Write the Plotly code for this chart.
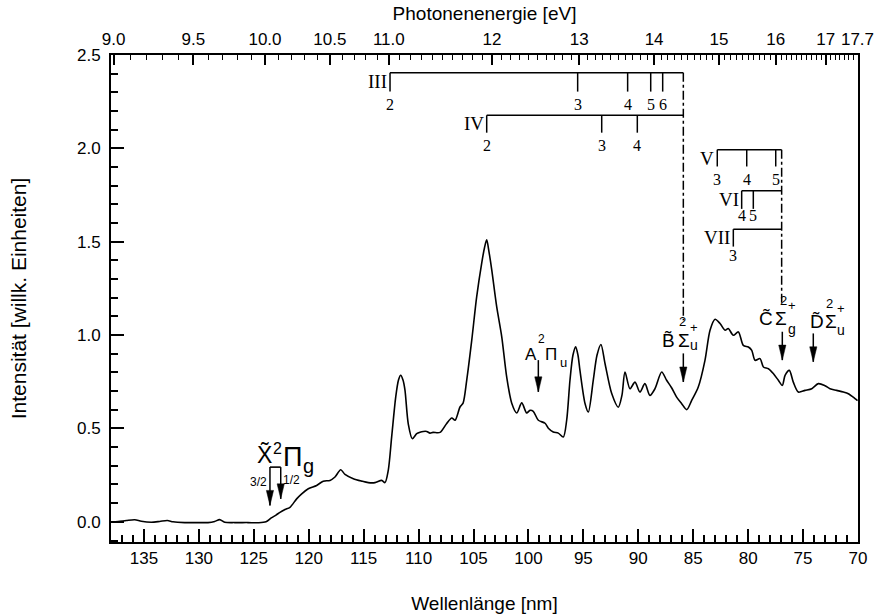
import plotly.graph_objects as go

# ---------------- data ----------------
wavelength_nm = [138.00, 137.36, 136.61, 135.84, 135.24, 134.33, 133.57, 132.87, 132.35, 131.29,
                 130.08, 129.17, 128.56, 128.11, 127.65, 126.74, 125.53, 124.62, 123.89, 123.41,
                 122.98, 122.62, 122.16, 121.71, 121.10, 120.64, 120.04, 119.28, 118.68, 118.07,
                 117.61, 117.09, 116.70, 115.94, 115.18, 114.58, 113.97, 113.36, 113.06, 112.76,
                 112.45, 112.08, 111.83, 111.63, 111.42, 111.24, 110.94, 110.57, 110.17, 109.87,
                 109.57, 109.26, 108.96, 108.69, 108.05, 107.44, 106.98, 106.68, 106.23, 105.95,
                 105.62, 105.16, 104.71, 104.25, 104.00, 103.80, 103.59, 103.34, 102.89, 102.43,
                 101.98, 101.52, 101.07, 100.61, 100.16, 99.86, 99.56, 99.10, 98.49, 98.19,
                 97.74, 97.28, 96.83, 96.52, 96.22, 95.95, 95.70, 95.49, 95.31, 94.85,
                 94.55, 94.10, 93.76, 93.40, 93.03, 92.42, 91.82, 91.49, 91.21, 90.76,
                 90.30, 89.85, 89.40, 88.94, 88.48, 87.87, 87.42, 86.97, 86.51, 86.05,
                 85.59, 85.14, 84.54, 83.93, 83.47, 83.01, 82.56, 82.10, 81.81, 81.35,
                 80.89, 80.44, 79.98, 79.67, 79.37, 78.92, 78.61, 78.16, 77.71, 77.25,
                 76.89, 76.64, 76.25, 75.89, 75.43, 74.82, 74.21, 73.61, 73.00, 72.55,
                 71.94, 71.33, 70.88, 70.27, 70.04]
intensity = [0.000, 0.002, 0.007, 0.011, 0.003, -0.002, 0.002, 0.007, 0.000, -0.004,
             -0.004, -0.004, 0.002, 0.012, -0.002, -0.004, -0.004, -0.005, 0.000, 0.021,
             0.036, 0.051, 0.066, 0.078, 0.123, 0.150, 0.177, 0.195, 0.218, 0.222,
             0.240, 0.279, 0.254, 0.231, 0.218, 0.210, 0.210, 0.222, 0.210, 0.276,
             0.455, 0.669, 0.759, 0.785, 0.759, 0.705, 0.525, 0.445, 0.472, 0.480,
             0.484, 0.484, 0.475, 0.479, 0.479, 0.527, 0.556, 0.544, 0.615, 0.636,
             0.758, 0.973, 1.206, 1.387, 1.468, 1.510, 1.446, 1.349, 1.152, 0.991,
             0.776, 0.635, 0.583, 0.637, 0.583, 0.597, 0.592, 0.544, 0.528, 0.501,
             0.481, 0.475, 0.454, 0.544, 0.758, 0.892, 0.937, 0.892, 0.811, 0.634,
             0.588, 0.758, 0.892, 0.950, 0.848, 0.687, 0.614, 0.677, 0.802, 0.713,
             0.748, 0.695, 0.740, 0.677, 0.713, 0.802, 0.758, 0.718, 0.668, 0.633,
             0.601, 0.650, 0.722, 0.865, 1.026, 1.085, 1.062, 1.026, 1.035, 0.999,
             1.017, 0.945, 0.936, 0.918, 0.865, 0.874, 0.829, 0.820, 0.794, 0.758,
             0.731, 0.784, 0.811, 0.748, 0.695, 0.704, 0.713, 0.740, 0.729, 0.713,
             0.704, 0.695, 0.686, 0.660, 0.649]

x_ticks_nm = [135, 130, 125, 120, 115, 110, 105, 100, 95, 90, 85, 80, 75, 70]
y_ticks = [0.0, 0.5, 1.0, 1.5, 2.0, 2.5]
top_ev_major = [9.0, 9.5, 10.0, 10.5, 11.0, 12, 13, 14, 15, 16, 17, 17.7]
top_ev_labels = ["9.0", "9.5", "10.0", "10.5", "11.0", "12", "13", "14", "15", "16", "17", "17.7"]
HC_EV_NM = 1239.84

# Rydberg series (positions in nm), their labels and series limits
series_III_nm = [112.60, 95.52, 90.97, 88.87, 87.78]
series_III_n = ["2", "3", "4", "5", "6"]
series_IV_nm = [103.80, 93.33, 90.09]
series_IV_n = ["2", "3", "4"]
series_V_nm = [82.81, 80.13, 77.49]
series_V_n = ["3", "4", "5"]
series_VI_nm = [80.59, 79.53]
series_VI_n = ["4", "5"]
series_VII_nm = [81.35]
series_VII_n = ["3"]
limit_B_nm = 85.90
limit_C_nm = 76.95

# ionic state thresholds (nm)
state_X32_nm = 123.53
state_X12_nm = 122.55
state_A_nm = 99.10
state_B_nm = 85.90
state_C_nm = 76.89
state_D_nm = 74.07

# ---------------- styling ----------------
SANS = "Liberation Sans, Arial, sans-serif"
SERIF = "Liberation Serif, Times New Roman, serif"
BLACK = "black"

fig = go.Figure()
fig.add_trace(go.Scatter(x=wavelength_nm, y=intensity, mode="lines",
                         line=dict(color=BLACK, width=1.6, shape="spline", smoothing=0.8),
                         showlegend=False, hoverinfo="skip"))
fig.add_trace(go.Scatter(x=wavelength_nm, y=intensity, mode="lines", xaxis="x2",
                         line=dict(color="rgba(0,0,0,0)", width=0),
                         showlegend=False, hoverinfo="skip"))

shapes = []
annotations = []

def line(x0, y0, x1, y1, dash="solid", width=1.5):
    shapes.append(dict(type="line", xref="x", yref="y", x0=x0, y0=y0, x1=x1, y1=y1,
                       line=dict(color=BLACK, width=width, dash=dash)))

def text(x, y, s, size, font=SANS, xs=0, ys=0, xanchor="center", yanchor="middle"):
    annotations.append(dict(x=x, y=y, xref="x", yref="y", text=s, showarrow=False,
                            xanchor=xanchor, yanchor=yanchor, xshift=xs, yshift=ys,
                            font=dict(family=font, size=size, color=BLACK)))

def piece(x, y, s, size, xs, ys):
    # one glyph group of a term symbol, offset in pixels from the arrow top
    text(x, y, s, size, SANS, xs=xs, ys=ys, xanchor="left", yanchor="bottom")

def arrow(x, y_top, y_tip):
    line(x, y_top, x, y_tip, width=1.5)
    shapes.append(dict(type="path", xref="x", yref="y", xsizemode="pixel", ysizemode="pixel",
                       xanchor=x, yanchor=y_tip, path="M -3.6,15 L 3.6,15 L 0,0 Z",
                       fillcolor=BLACK, line=dict(color=BLACK, width=0.5)))

# series brackets: (positions, labels, limit, name, line level, tick bottom, digit shift)
brackets = [
    (series_III_nm, series_III_n, limit_B_nm, "III", 2.405, 2.304, -12.5),
    (series_IV_nm, series_IV_n, limit_B_nm, "IV", 2.177, 2.084, -13.0),
    (series_V_nm, series_V_n, limit_C_nm, "V", 1.993, 1.903, -13.3),
    (series_VI_nm, series_VI_n, limit_C_nm, "VI", 1.773, 1.676, -7.0),
    (series_VII_nm, series_VII_n, limit_C_nm, "VII", 1.567, 1.474, -9.0),
]
for pos, labs, lim, name, ylev, ybot, dshift in brackets:
    line(pos[0], ylev, lim, ylev)
    for p, lab in zip(pos, labs):
        line(p, ylev, p, ybot)
        text(p, ybot, lab, 16, SERIF, ys=dshift)
    text(pos[0], ylev, name, 19, SERIF, xs=-1, ys=-8.5, xanchor="right")

# dash-dot series limits
line(limit_B_nm, 2.405, limit_B_nm, 1.080, dash="dashdot", width=1.5)
line(limit_C_nm, 1.993, limit_C_nm, 1.172, dash="dashdot", width=1.5)

# X state (two spin-orbit components)
x_top = 0.293
line(state_X32_nm, x_top, state_X12_nm, x_top, width=1.6)
arrow(state_X32_nm, x_top, 0.088)
arrow(state_X12_nm, x_top, 0.123)
piece(state_X32_nm, x_top, "X\u0303", 23, -15, -3.2)
piece(state_X32_nm, x_top, "2", 16, 1.5, 8.3)
piece(state_X32_nm, x_top, "\u03a0", 27, 11, -7.0)
piece(state_X32_nm, x_top, "g", 20, 31, -11.5)
text(state_X32_nm, x_top, "3/2", 12, xs=-11.7, ys=-15)
text(state_X12_nm, x_top, "1/2", 12, xs=10.6, ys=-12.8)

# A state
a_top = 0.866
arrow(state_A_nm, a_top, 0.696)
piece(state_A_nm, a_top, "A", 17, -15.3, -5.6)
piece(state_A_nm, a_top, "2", 12, -2.8, 12.5)
piece(state_A_nm, a_top, "\u03a0", 17, 4.7, -6.3)
piece(state_A_nm, a_top, "u", 13, 19.2, -11.8)

# B state
b_top = 0.902
arrow(state_B_nm, b_top, 0.749)
piece(state_B_nm, b_top, "B\u0303", 19, -23.8, 0.3)
piece(state_B_nm, b_top, "2", 13, -6.3, 22.0)
piece(state_B_nm, b_top, "\u03a3", 19, -7.8, 0.3)
piece(state_B_nm, b_top, "+", 13, 4.7, 16.2)
piece(state_B_nm, b_top, "u", 14, 4.7, -1.7)

# C state
c_top = 1.018
arrow(state_C_nm, c_top, 0.866)
piece(state_C_nm, c_top, "C\u0303", 19, -25.7, 0.7)
piece(state_C_nm, c_top, "2", 13, -4.2, 21.9)
piece(state_C_nm, c_top, "\u03a3", 19, -9.2, 0.7)
piece(state_C_nm, c_top, "+", 13, 3.3, 16.4)
piece(state_C_nm, c_top, "g", 14, 3.3, -7.3)

# D state
d_top = 1.009
arrow(state_D_nm, d_top, 0.857)
piece(state_D_nm, d_top, "D\u0303", 19, -4.8, -0.7)
piece(state_D_nm, d_top, "2", 13, 11.2, 20.5)
piece(state_D_nm, d_top, "\u03a3", 19, 9.7, -0.7)
piece(state_D_nm, d_top, "+", 13, 22.2, 15.5)
piece(state_D_nm, d_top, "u", 14, 22.2, -6.7)

x_range = [138.0, 70.0]
top_major_nm = [HC_EV_NM / e for e in top_ev_major]
top_minor_nm = [HC_EV_NM / (9.0 + 0.1 * k) for k in range(0, 88)]

tick_font = dict(family=SANS, size=17, color=BLACK)
title_font = dict(family=SANS, size=19, color=BLACK)
fig.update_layout(
    width=875, height=614,
    margin=dict(l=111, r=17, t=55, b=72),
    paper_bgcolor="white", plot_bgcolor="white",
    font=tick_font,
    shapes=shapes, annotations=annotations,
    xaxis=dict(range=x_range, tickmode="array", tickvals=x_ticks_nm,
               ticktext=[str(v) for v in x_ticks_nm],
               ticks="inside", ticklen=13, tickwidth=1.5, tickcolor=BLACK,
               minor=dict(dtick=1, tick0=70, ticks="inside", ticklen=7, tickwidth=1.5, tickcolor=BLACK),
               showline=True, linewidth=2, linecolor=BLACK, showgrid=False, zeroline=False,
               tickfont=tick_font, ticklabelstandoff=0, automargin=False,
               title=dict(text="Wellenlänge [nm]", font=title_font, standoff=29)),
    xaxis2=dict(range=x_range, overlaying="x", side="top", anchor="y",
                tickmode="array", tickvals=top_major_nm, ticktext=top_ev_labels,
                ticks="inside", ticklen=10, tickwidth=1.5, tickcolor=BLACK,
                minor=dict(tickmode="array", tickvals=top_minor_nm, ticks="inside",
                           ticklen=5, tickwidth=1.2, tickcolor=BLACK),
                showline=True, linewidth=2, linecolor=BLACK, showgrid=False, zeroline=False,
                tickfont=tick_font, ticklabelstandoff=1, automargin=False,
                title=dict(text="Photonenenergie [eV]", font=title_font, standoff=5)),
    yaxis=dict(range=[-0.108, 2.5], tickmode="array", tickvals=y_ticks,
               ticktext=[f"{v:.1f}" for v in y_ticks],
               ticks="inside", ticklen=13, tickwidth=1.5, tickcolor=BLACK,
               minor=dict(dtick=0.1, tick0=0, ticks="inside", ticklen=7, tickwidth=1.5, tickcolor=BLACK),
               showline=True, linewidth=2, linecolor=BLACK, mirror=True,
               showgrid=False, zeroline=False, tickfont=tick_font, ticklabelstandoff=5,
               automargin=False,
               title=dict(text="Intensität [willk. Einheiten]",
                          font=dict(family=SANS, size=21, color=BLACK), standoff=45)),
)

fig.write_html("out.html", config={"displayModeBar": False},
               post_script="document.body.style.margin='0px';document.body.style.padding='0px';")
